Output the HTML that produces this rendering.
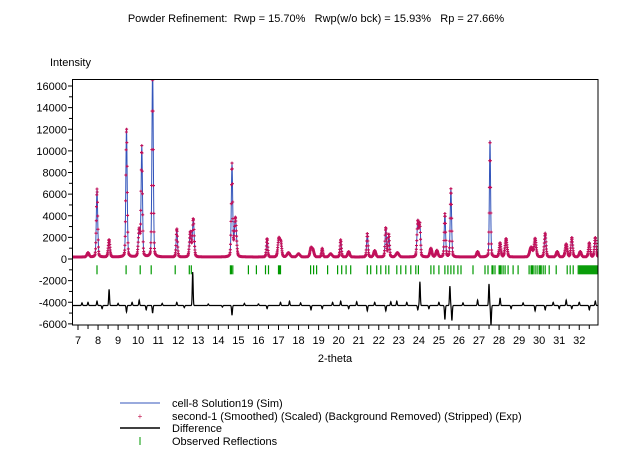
<!DOCTYPE html>
<html><head><meta charset="utf-8"><style>
body{margin:0;background:#fff;width:637px;height:460px;overflow:hidden}
svg{display:block}
text{font-family:"Liberation Sans",sans-serif;font-size:11px;fill:#000}
</style></head><body>
<svg id="chart" width="637" height="460" xmlns="http://www.w3.org/2000/svg">
<text x="316" y="22" text-anchor="middle" style="white-space:pre">Powder Refinement:  Rwp = 15.70%   Rwp(w/o bck) = 15.93%   Rp = 27.66%</text>
<text x="50" y="66">Intensity</text>
<text x="335" y="362" text-anchor="middle">2-theta</text>
<defs><clipPath id="plotclip"><rect x="72" y="79" width="526" height="246"/></clipPath></defs>
<g id="plotg" clip-path="url(#plotclip)"></g>
<rect x="72.5" y="79.5" width="525.5" height="245.5" fill="none" stroke="#000" stroke-width="1"/>
<g id="axisg"></g>
<g>
<line x1="120" y1="403" x2="160" y2="403" stroke="#3355bb" stroke-width="1"/>
<text x="172" y="407">cell-8 Solution19 (Sim)</text>
<text x="140" y="419" text-anchor="middle" style="fill:#c0104a;font-size:8px">+</text>
<text x="172" y="420">second-1 (Smoothed) (Scaled) (Background Removed) (Stripped) (Exp)</text>
<line x1="120" y1="428" x2="160" y2="428" stroke="#000" stroke-width="1.5"/>
<text x="172" y="432">Difference</text>
<line x1="140" y1="437" x2="140" y2="445" stroke="#009900" stroke-width="1"/>
<text x="172" y="445">Observed Reflections</text>
</g>
</svg>
<script>
const peakPos=[7.5,7.95,8.55,9.42,10.05,10.18,10.72,11.93,12.6,12.75,14.68,14.85,16.43,17.02,17.12,17.5,18.0,18.62,18.72,19.18,19.6,20.1,20.5,21.43,21.8,22.35,22.5,22.93,23.95,24.05,24.6,24.9,25.3,25.6,26.93,27.55,28.05,28.35,29.6,29.8,30.3,30.9,31.35,31.63,32.05,32.5,32.8];
const peakHeight=[400,6300,1600,11900,2500,10200,17500,2600,2300,3500,8600,3600,1700,1700,1200,400,300,800,600,800,300,1600,500,2200,600,2700,2100,400,3300,2900,800,600,4000,6300,500,10800,1300,1700,900,1700,2200,500,1200,1800,500,1300,1800];
const peakWidth=[0.06,0.04,0.05,0.04,0.05,0.04,0.04,0.04,0.05,0.05,0.04,0.06,0.04,0.06,0.05,0.08,0.08,0.06,0.06,0.04,0.08,0.04,0.06,0.04,0.06,0.04,0.04,0.08,0.05,0.04,0.06,0.06,0.04,0.04,0.06,0.035,0.05,0.06,0.08,0.06,0.05,0.06,0.06,0.05,0.06,0.05,0.05];
const background=[180];
const diffPos=[7.2,7.5,7.95,8.2,8.55,9.0,9.42,9.7,10.05,10.4,10.72,11.2,11.93,12.3,12.72,13.5,14.2,14.68,15.3,16.0,16.43,17.1,17.55,18.1,18.62,19.18,19.7,20.1,20.5,20.9,21.43,21.8,22.35,22.6,22.9,23.4,23.95,24.05,24.5,25.0,25.3,25.55,25.65,26.2,26.93,27.5,27.6,28.05,28.6,29.2,29.8,30.3,30.7,31.0,31.35,31.63,32.0,32.5,32.8];
const diffVal=[250,300,400,-300,1500,200,-600,300,500,-400,-700,200,300,-200,3100,150,-150,-900,200,150,-300,300,400,250,-400,-300,300,400,-300,350,-500,300,-500,350,400,300,-400,2200,-300,300,-1300,1800,-1400,250,500,2000,-1800,700,-300,250,-500,-400,300,-300,500,-300,300,-400,400];
const diffBase=[-4300];
const reflections=[7.95,9.4,10.1,10.65,11.85,12.55,12.65,14.6,14.65,14.72,15.5,15.9,16.35,16.5,17.0,17.05,17.1,18.6,18.75,18.9,19.45,19.95,20.15,20.37,20.6,21.43,21.6,21.9,22.1,22.35,22.5,22.9,23.1,23.35,23.6,23.85,23.98,24.6,24.75,25.0,25.3,25.45,25.6,25.75,25.95,26.1,26.7,27.3,27.45,27.65,27.7,27.8,28.0,28.05,28.1,28.2,28.3,28.45,28.7,28.95,29.5,29.6,29.65,29.7,29.8,29.9,30.0,30.05,30.1,30.2,30.3,30.5,30.85,31.4,31.55,31.7,31.95,32.0,32.05,32.1,32.15,32.2,32.25,32.3,32.35,32.4,32.45,32.5,32.55,32.6,32.65,32.7,32.75,32.8,32.85,32.9];
const xTicks=[7,8,9,10,11,12,13,14,15,16,17,18,19,20,21,22,23,24,25,26,27,28,29,30,31,32];
const yTicks=[16000,14000,12000,10000,8000,6000,4000,2000,0,-2000,-4000,-6000];
const reflY=[-1000];

const NS='http://www.w3.org/2000/svg';
const X=v=>78+(v-7)*20.05;
const Y=v=>259-v*173/16000;
const plot=document.getElementById('plotg'), axis=document.getElementById('axisg');
function mk(tag,attrs,parent){const e=document.createElementNS(NS,tag);for(const k in attrs)e.setAttribute(k,attrs[k]);parent.appendChild(e);return e;}
function profile(t){let s=background[0];for(let i=0;i<peakPos.length;i++){const d=(t-peakPos[i])/peakWidth[i];s+=peakHeight[i]*(0.8*Math.exp(-0.693*d*d)+0.2/(1+d*d));}return s;}
function diff(t){let s=diffBase[0];for(let i=0;i<diffPos.length;i++){const d=(t-diffPos[i])/0.03;s+=diffVal[i]*Math.exp(-d*d);}return s;}
let cp='';
for(let t=6.7;t<=32.95;t+=0.01){cp+=(cp?'L':'M')+X(t).toFixed(1)+','+Y(profile(t)).toFixed(1);}
const calcP=mk('path',{d:cp,stroke:'#3355bb','stroke-width':1,fill:'none'},plot);


let ep='';
for(let t=6.7;t<=32.95;t+=0.012){const x=X(t),y=Y(profile(t));ep+=`M${(x-1.5).toFixed(1)},${y.toFixed(1)}h3M${x.toFixed(1)},${(y-1.5).toFixed(1)}v3`;}
const expP=mk('path',{d:ep,stroke:'#c0105a','stroke-width':1.1,fill:'none'},plot);


let dp='';
for(let t=6.7;t<=32.95;t+=0.01){dp+=(dp?'L':'M')+X(t).toFixed(1)+','+Y(diff(t)).toFixed(1);}
const diffP=mk('path',{d:dp,stroke:'#000','stroke-width':1.2,fill:'none'},plot);


reflections.forEach(r=>{
  const l=mk('line',{x1:X(r).toFixed(1),x2:X(r).toFixed(1),y1:Y(reflY[0])-4.5,y2:Y(reflY[0])+4.5,stroke:'#009900','stroke-width':1.2},plot);
  
  
});
yTicks.forEach(v=>{
  const y=Y(v);
  mk('line',{x1:68,x2:72,y1:y,y2:y,stroke:'#000'},axis);
  const t=mk('text',{x:67,y:y+4,'text-anchor':'end'},axis);t.textContent=v;
  
  
  if(v>-6000){const m=Y(v-1000);mk('line',{x1:69,x2:72,y1:m,y2:m,stroke:'#000'},axis);}
});
xTicks.forEach(v=>{
  const x=X(v);
  mk('line',{x1:x,x2:x,y1:325,y2:330,stroke:'#000'},axis);
  mk('line',{x1:X(v+0.5),x2:X(v+0.5),y1:325,y2:329,stroke:'#000'},axis);
  const t=mk('text',{x:x,y:344,'text-anchor':'middle'},axis);t.textContent=v;
  
  
});
</script>
</body></html>
